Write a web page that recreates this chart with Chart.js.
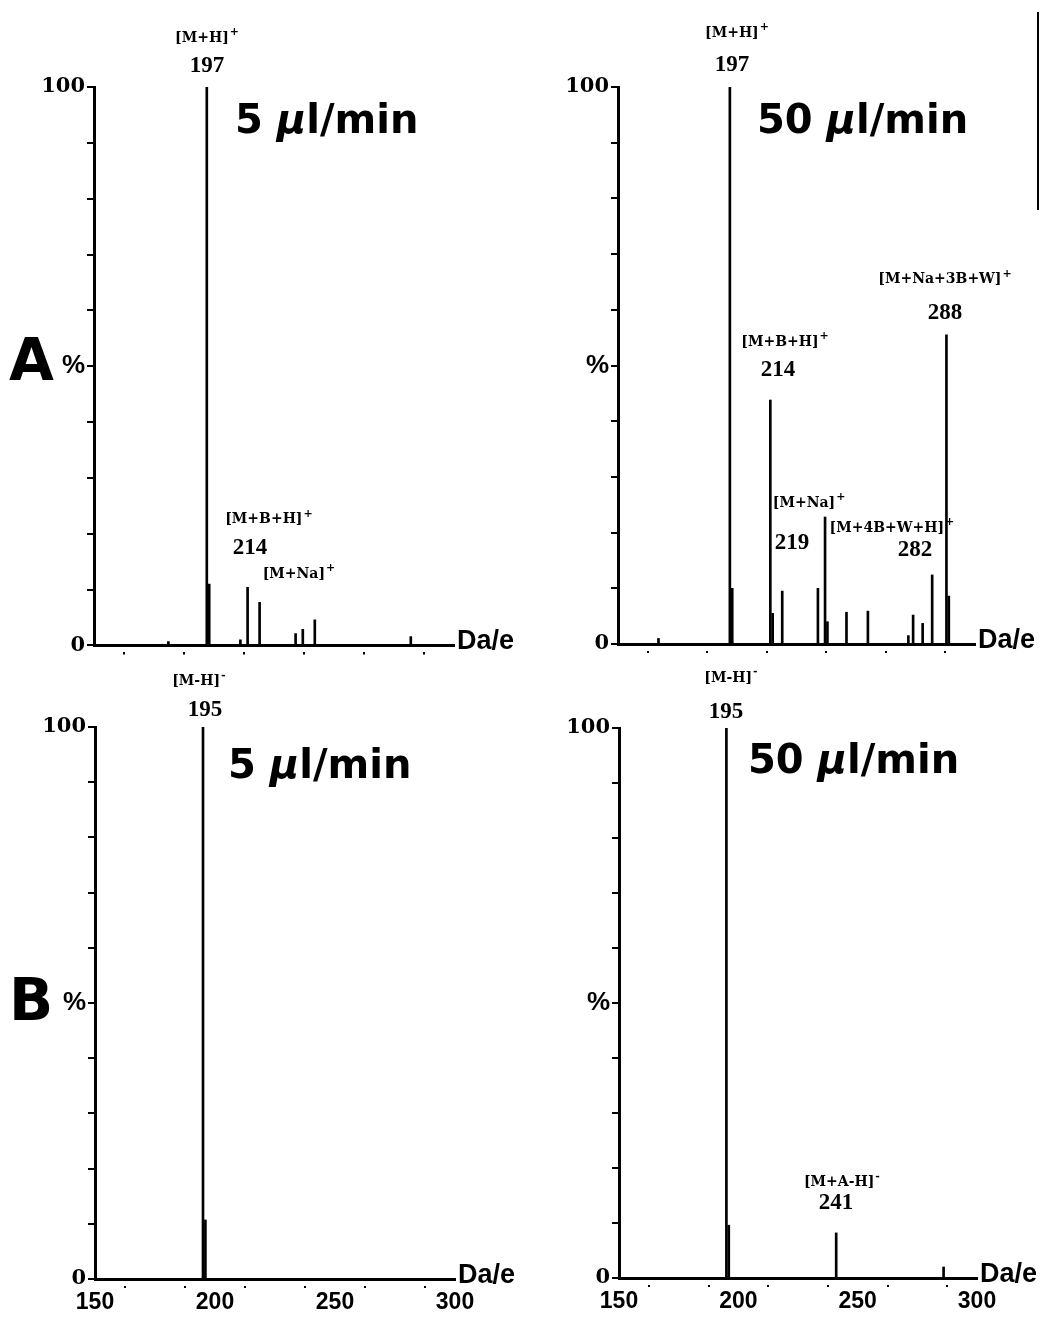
<!DOCTYPE html>
<html>
<head>
<meta charset="utf-8">
<script src="https://cdn.jsdelivr.net/npm/chart.js@4"></script>
<style>
body { margin: 0; background: #fff; }
#wrap { position: relative; width: 1040px; height: 1321px; background: #fff; }
#wrap canvas { position: absolute; }
#edge { position: absolute; left: 1037px; top: 12px; width: 2px; height: 198px; background: #000; }
</style>
</head>
<body>
<div id="wrap">
  <canvas id="aSlow" width="520" height="660" style="left:0;top:0"></canvas>
  <canvas id="aFast" width="520" height="660" style="left:520px;top:0"></canvas>
  <canvas id="bSlow" width="520" height="661" style="left:0;top:660px"></canvas>
  <canvas id="bFast" width="520" height="661" style="left:520px;top:660px"></canvas>
  <div id="edge"></div>
</div>
<script>
// tick labels on the m/z axis (only printed under the B row)
const xLabels = [150, 200, 250, 300];

// A, positive ions, 5 ul/min
const aSlowMz  = [181, 197, 198, 211, 214, 219, 234, 237, 242, 282];
const aSlowPct = [0.7, 100, 11, 1.0, 10.4, 7.7, 2.1, 2.9, 4.6, 1.6];

// A, positive ions, 50 ul/min
const aFastMz  = [167, 197, 198, 214, 215, 219, 234, 237, 238, 246, 255, 272, 274, 278, 282, 288, 289];
const aFastPct = [1.0, 100, 10, 43.8, 5.5, 9.5, 10, 22.8, 4.0, 5.7, 5.9, 1.5, 5.2, 3.7, 12.4, 55.5, 8.6];

// B, negative ions, 5 ul/min
const bSlowMz  = [195, 196];
const bSlowPct = [100, 10.7];

// B, negative ions, 50 ul/min
const bFastMz  = [195, 196, 241, 286];
const bFastPct = [100, 9.6, 8.2, 2.0];

// peak annotations (anchor in m/z and %)
const aSlowNotes = [
    { mz: 197.1, pct: 108.8, text: "[M+H]", sup: "+" },
    { mz: 197.1, pct: 103.8, text: "197" },
    { mz: 222.9, pct: 22.5, text: "[M+B+H]", sup: "+" },
    { mz: 215.0, pct: 17.5, text: "214" },
    { mz: 235.4, pct: 12.7, text: "[M+Na]", sup: "+" }
];
const aFastNotes = [
    { mz: 200.0, pct: 109.7, text: "[M+H]", sup: "+" },
    { mz: 197.9, pct: 104.0, text: "197" },
    { mz: 287.4, pct: 65.4, text: "[M+Na+3B+W]", sup: "+" },
    { mz: 287.4, pct: 59.4, text: "288" },
    { mz: 220.2, pct: 54.2, text: "[M+B+H]", sup: "+" },
    { mz: 217.2, pct: 49.2, text: "214" },
    { mz: 230.3, pct: 25.3, text: "[M+Na]", sup: "+" },
    { mz: 223.1, pct: 18.1, text: "219" },
    { mz: 265.1, pct: 20.8, text: "[M+4B+W+H]", sup: "+" },
    { mz: 274.8, pct: 16.9, text: "282" }
];
const bSlowNotes = [
    { mz: 193.3, pct: 108.2, text: "[M-H]", sup: "-" },
    { mz: 195.8, pct: 103.1, text: "195" }
];
const bFastNotes = [
    { mz: 196.9, pct: 109.1, text: "[M-H]", sup: "-" },
    { mz: 194.8, pct: 102.9, text: "195" },
    { mz: 243.4, pct: 17.3, text: "[M+A-H]", sup: "-" },
    { mz: 240.9, pct: 13.6, text: "241" }
];

function peaks(mz, pct) {
    return mz.map(function (m, i) { return { x: m, y: pct[i] }; });
}

// titles, letters, Da/e and the peak labels
const panelText = {
    id: "panelText",
    afterDraw: function (chart, args, o) {
        const ctx = chart.ctx;
        const area = chart.chartArea;
        const xs = chart.scales.x, ys = chart.scales.y;
        ctx.save();
        ctx.fillStyle = "#000";
        ctx.textAlign = "left";
        ctx.textBaseline = "alphabetic";

        // flow rate title
        let tx = o.titleX;
        ctx.font = 'bold 40px "DejaVu Sans"';
        ctx.fillText(o.rate + " ", tx, o.titleY);
        tx += ctx.measureText(o.rate + " ").width;
        ctx.font = 'italic bold 40px "DejaVu Sans"';
        ctx.fillText("\u03bc", tx, o.titleY);
        tx += ctx.measureText("\u03bc").width;
        ctx.font = 'bold 40px "DejaVu Sans"';
        ctx.fillText("l/min", tx, o.titleY);

        ctx.font = 'bold 27px "Liberation Sans"';
        ctx.fillText("Da/e", area.right + 3, area.bottom + 4);

        if (o.letter) {
            ctx.font = 'bold 58px "DejaVu Sans"';
            ctx.fillText(o.letter, 9, o.letterY);
        }

        ctx.textBaseline = "middle";
        o.notes.forEach(function (n) {
            const px = xs.getPixelForValue(n.mz);
            const py = ys.getPixelForValue(n.pct);
            if (n.sup) {
                ctx.font = 'bold 14px "DejaVu Serif"';
                const w1 = ctx.measureText(n.text).width;
                ctx.font = 'bold 11px "DejaVu Serif"';
                const w2 = ctx.measureText(n.sup).width;
                const left = px - (w1 + w2 + 1) / 2;
                ctx.font = 'bold 14px "DejaVu Serif"';
                ctx.fillText(n.text, left, py);
                ctx.font = 'bold 11px "DejaVu Serif"';
                ctx.fillText(n.sup, left + w1 + 1, py - 6);
            } else {
                ctx.font = 'bold 23px "Liberation Serif"';
                const w = ctx.measureText(n.text).width;
                ctx.fillText(n.text, px - w / 2, py);
            }
        });
        ctx.restore();
    }
};

// frame = plot box inside the canvas, in canvas pixels
function makePanel(id, mz, pct, cfg) {
    const el = document.getElementById(id);
    const f = cfg.frame;
    return new Chart(el, {
        type: "bar",
        data: {
            datasets: [{
                data: peaks(mz, pct),
                backgroundColor: "#000",
                barThickness: 2,
                grouped: false
            }]
        },
        options: {
            responsive: false,
            animation: false,
            layout: { padding: { left: 0, bottom: 0, top: f.top, right: el.width - f.right } },
            plugins: {
                legend: { display: false },
                tooltip: { enabled: false },
                panelText: cfg.text
            },
            scales: {
                x: {
                    type: "linear",
                    min: 150,
                    max: 300,
                    offset: false,
                    afterFit: function (s) { s.height = el.height - f.bottom; },
                    border: { display: true, color: "#000", width: 3 },
                    grid: {
                        drawOnChartArea: false, drawTicks: true, tickLength: 9,
                        color: "#000", lineWidth: 2, tickBorderDash: [0, 5, 4, 30]
                    },
                    ticks: {
                        stepSize: 25,
                        autoSkip: false,
                        maxRotation: 0,
                        padding: 1,
                        color: "#000",
                        font: { family: "Liberation Sans", size: 23, weight: "bold" },
                        callback: function (v) {
                            return cfg.showX && xLabels.includes(v) ? String(v) : "";
                        }
                    }
                },
                y: {
                    min: 0,
                    max: 100,
                    afterFit: function (s) { s.width = f.left; },
                    border: { display: true, color: "#000", width: 3 },
                    grid: { drawOnChartArea: false, drawTicks: true, tickLength: 7, color: "#000", lineWidth: 2 },
                    ticks: {
                        stepSize: 10,
                        autoSkip: false,
                        padding: 2,
                        color: "#000",
                        font: function (c) {
                            if (c.tick && c.tick.value === 50) {
                                return { family: "Liberation Sans", size: 26, weight: "bold" };
                            }
                            return { family: "DejaVu Serif", size: 21, weight: "bold" };
                        },
                        callback: function (v) {
                            if (v === 100) return "100";
                            if (v === 50) return "%";
                            if (v === 0) return "0";
                            return "";
                        }
                    }
                }
            }
        },
        plugins: [panelText]
    });
}

makePanel("aSlow", aSlowMz, aSlowPct, {
    frame: { left: 94, right: 454, top: 87, bottom: 646 },
    showX: false,
    text: { rate: "5", titleX: 235, titleY: 133, letter: "A", letterY: 380, notes: aSlowNotes }
});
makePanel("aFast", aFastMz, aFastPct, {
    frame: { left: 98, right: 455, top: 87, bottom: 644 },
    showX: false,
    text: { rate: "50", titleX: 237, titleY: 133, notes: aFastNotes }
});
makePanel("bSlow", bSlowMz, bSlowPct, {
    frame: { left: 95, right: 455, top: 67, bottom: 619 },
    showX: true,
    text: { rate: "5", titleX: 228, titleY: 118, letter: "B", letterY: 360, notes: bSlowNotes }
});
makePanel("bFast", bFastMz, bFastPct, {
    frame: { left: 99, right: 457, top: 68, bottom: 618 },
    showX: true,
    text: { rate: "50", titleX: 228, titleY: 113, notes: bFastNotes }
});
</script>
</body>
</html>
